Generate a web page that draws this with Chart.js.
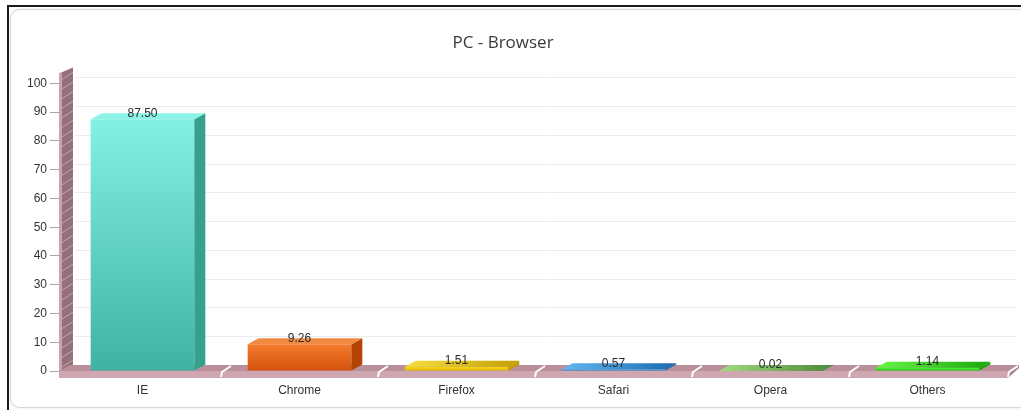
<!DOCTYPE html>
<html>
<head>
<meta charset="utf-8">
<script src="https://cdn.jsdelivr.net/npm/chart.js@4.4.1/dist/chart.umd.min.js"></script>
<style>
  html, body { margin: 0; padding: 0; background: #fff; }
  .frame {
    position: absolute; left: 7px; top: 5px; right: 0; bottom: 0;
    border-top: 2px solid #1b1b1b; border-left: 2px solid #1b1b1b;
  }
  .card {
    position: absolute; left: 10px; top: 9px; width: 1016px; height: 397px;
    border: 1px solid #d6d6d6; border-radius: 10px;
    box-shadow: 0 0 3px rgba(0,0,0,0.12); background: #fff;
  }
  #chart { position: absolute; left: 0; top: 0; }
</style>
</head>
<body>
<div class="frame"></div>
<div class="card"></div>
<canvas id="chart" width="1021" height="410"></canvas>
<script>
// data
const categories = ['IE', 'Chrome', 'Firefox', 'Safari', 'Opera', 'Others'];
const shares = [87.50, 9.26, 1.51, 0.57, 0.02, 1.14];
const yMin = 0, yMax = 100, yStep = 10;

// colours per bar: front gradient (top, bottom), side face, top face
const frontTop = ['#84f1e3', '#f47b2c', '#f6d81c', '#4aaaf0', '#92d274', '#52f232'];
const frontBottom = ['#3fb2a2', '#d4520e', '#e2b600', '#1f7fd0', '#5c9c44', '#22c012'];
const sideColors = ['#36a08f', '#b54304', '#c39e00', '#1a6aae', '#4c8838', '#19a60a'];
const topColors = ['#8cf4e6', '#f08a42', '#f7e040', '#62b8f2', '#a2dc82', '#66f846'];

const DX = 11, DY = 6;

function frontFill(ctx) {
  const chart = ctx.chart;
  const i = ctx.dataIndex;
  if (!chart.chartArea) return frontTop[i];
  const ys = chart.scales.y;
  const top = ys.getPixelForValue(shares[i]);
  const bottom = ys.getPixelForValue(0);
  const g = chart.ctx.createLinearGradient(0, top, 0, Math.max(bottom, top + 1));
  g.addColorStop(0, frontTop[i]);
  g.addColorStop(1, frontBottom[i]);
  return g;
}

function poly(c, pts, fill) {
  c.beginPath();
  c.moveTo(pts[0][0], pts[0][1]);
  for (let k = 1; k < pts.length; k++) c.lineTo(pts[k][0], pts[k][1]);
  c.closePath();
  c.fillStyle = fill;
  c.fill();
}

const room3d = {
  id: 'room3d',
  beforeDatasetsDraw(chart) {
    const c = chart.ctx;
    const area = chart.chartArea;
    const ys = chart.scales.y;
    const xs = chart.scales.x;
    const y0 = ys.getPixelForValue(0);
    const yTop = ys.getPixelForValue(yMax);
    c.save();

    // back grid lines
    c.strokeStyle = '#ececec';
    c.lineWidth = 1;
    for (let v = yMin; v <= yMax; v += yStep) {
      const y = Math.round(ys.getPixelForValue(v) - DY) + 0.5;
      c.beginPath();
      c.moveTo(area.left + DX, y);
      c.lineTo(area.right + 10, y);
      c.stroke();
    }

    // left wall
    const wf = area.left - 5, wb = area.left + DX - 2;
    poly(c, [[wf, y0 + 7], [wf, yTop - 10], [wb, yTop - 10 - DY], [wb, y0 - DY]], '#94707a');
    poly(c, [[wf, y0 + 7], [wf, yTop - 10], [wf + 3, yTop - 11.5], [wf + 3, y0 + 6]], '#c9a3ad');
    c.strokeStyle = '#caa8b0';
    c.lineWidth = 1;
    for (let v = yMin; v <= yMax; v += yStep / 3) {
      const y = ys.getPixelForValue(v) - 4;
      c.beginPath();
      c.moveTo(wf + 3, y);
      c.lineTo(wb, y - DY - 1);
      c.stroke();
    }

    // floor
    const fl = wf, fr = area.right + 2;
    poly(c, [[fl, y0], [fr, y0], [fr + DX, y0 - DY], [fl + DX, y0 - DY]], '#b99099');
    poly(c, [[fl, y0], [fr, y0], [fr, y0 + 7], [fl, y0 + 7]], '#cfa7b1');
    poly(c, [[fr, y0], [fr + DX, y0 - DY], [fr + DX, y0 - DY + 3], [fr, y0 + 7]], '#a8828c');

    // category separators on the floor
    c.strokeStyle = '#ffffff';
    c.lineWidth = 2;
    for (let k = 1; k <= categories.length; k++) {
      const b = k < categories.length
        ? (xs.getPixelForValue(k - 1) + xs.getPixelForValue(k)) / 2
        : fr;
      c.beginPath();
      c.moveTo(b, y0 + 6);
      c.lineTo(b + 1, y0 + 1);
      c.lineTo(b + DX - 1, y0 - DY + 1);
      c.stroke();
    }
    c.restore();
  },
  afterDatasetsDraw(chart) {
    const c = chart.ctx;
    const meta = chart.getDatasetMeta(0);
    c.save();
    meta.data.forEach((bar, i) => {
      const p = bar.getProps(['x', 'y', 'base', 'width'], true);
      const x1 = p.x - p.width / 2, x2 = p.x + p.width / 2;
      poly(c, [[x2, p.y], [x2 + DX, p.y - DY], [x2 + DX, p.base - DY], [x2, p.base]], sideColors[i]);
      const tg = c.createLinearGradient(x1, 0, x2 + DX, 0);
      tg.addColorStop(0, topColors[i]);
      tg.addColorStop(1, sideColors[i]);
      poly(c, [[x1, p.y], [x2, p.y], [x2 + DX, p.y - DY], [x1 + DX, p.y - DY]], i >= 2 ? tg : topColors[i]);
      c.fillStyle = '#2a2a2a';
      c.font = '12px "Liberation Sans", Arial, sans-serif';
      c.textAlign = 'center';
      c.textBaseline = 'middle';
      c.fillText(shares[i].toFixed(2), p.x, p.y - 6);
    });
    c.restore();
  }
};

new Chart(document.getElementById('chart'), {
  type: 'bar',
  data: {
    labels: categories,
    datasets: [{
      data: shares,
      backgroundColor: frontFill,
      borderWidth: 0,
      barPercentage: 0.66,
      categoryPercentage: 1
    }]
  },
  options: {
    responsive: false,
    animation: false,
    layout: { padding: { left: 0, right: 15, top: 0, bottom: 0 } },
    plugins: {
      legend: { display: false },
      tooltip: { enabled: false },
      title: {
        display: true,
        text: 'PC - Browser',
        color: '#3a3a3a',
        font: { family: '"Open Sans", sans-serif', size: 17, weight: 'normal' },
        padding: { top: 33, bottom: 30 }
      }
    },
    scales: {
      x: {
        grid: { display: false },
        border: { display: false },
        ticks: {
          color: '#333',
          padding: 4,
          font: { family: '"Liberation Sans", Arial, sans-serif', size: 12 }
        },
        afterFit(s) { s.height = 39; }
      },
      y: {
        min: yMin,
        max: yMax,
        border: { display: false },
        grid: { drawOnChartArea: false, drawTicks: true, tickLength: 14, color: '#a8a8a8' },
        ticks: {
          stepSize: yStep,
          color: '#333',
          padding: 3,
          font: { family: '"Liberation Sans", Arial, sans-serif', size: 12 }
        },
        afterFit(s) { s.width = 64; }
      }
    }
  },
  plugins: [room3d]
});
</script>
</body>
</html>
